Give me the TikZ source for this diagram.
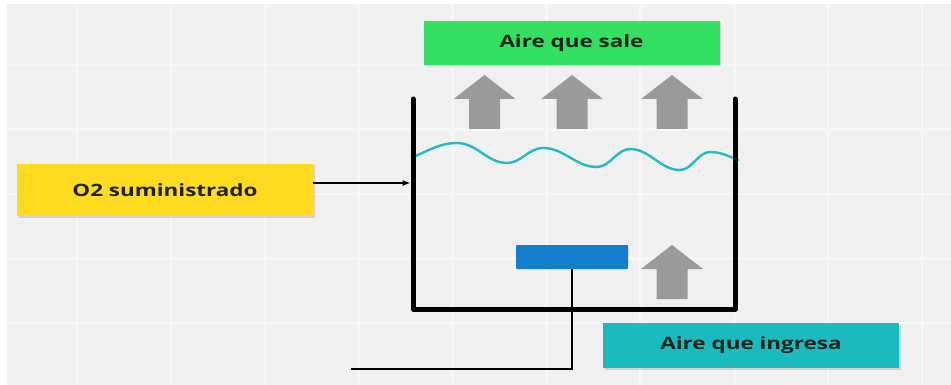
\documentclass[tikz,border=0pt]{standalone}
\usepackage{fontspec}
\newfontfamily\lblfont{Open Sans}[FakeStretch=1.32]
\usetikzlibrary{arrows.meta,shadows}
\definecolor{bggray}{HTML}{F0F0F0}
\definecolor{gridc}{HTML}{F6F6F6}
\definecolor{boxgreen}{HTML}{34E064}
\definecolor{boxyellow}{HTML}{FEDB1F}
\definecolor{boxteal}{HTML}{19BBBE}
\definecolor{diffblue}{HTML}{137FCC}
\definecolor{wavec}{HTML}{22BBC6}
\definecolor{arrgray}{HTML}{9A9A9A}
\definecolor{txt}{HTML}{1E241E}
\tikzset{
  lblbox/.style={minimum width=296pt, inner sep=0pt, text=txt,
    font=\lblfont\bfseries\fontsize{17}{20}\selectfont,
    drop shadow={shadow xshift=1.5pt, shadow yshift=-1.5pt, fill=black, opacity=0.12}},
  tankwall/.style={line width=5pt, line cap=round, line join=round, black},
  pipe/.style={line width=2.6pt, black},
  uparr/.pic={\fill[arrgray] (-15.5,30) -- (-15.5,0) -- (-31,0) -- (0,-24) -- (31,0) -- (15.5,0) -- (15.5,30) -- cycle;}
}
\begin{document}
\begin{tikzpicture}[x=1pt,y=-1pt]
\useasboundingbox (0,0) rectangle (951,385);
\fill[white] (0,0) rectangle (951,385);
\fill[bggray] (7,4) rectangle (951,385);
\foreach \i in {0,...,9} { \draw[gridc, line width=2.5pt] ({77+93.9*\i},4) -- ({77+93.9*\i},385); }
\foreach \j in {1,...,5} { \draw[gridc, line width=2.5pt] (7,{0.5+64.5*\j}) -- (951,{0.5+64.5*\j}); }

% labels
\node[lblbox, fill=boxgreen, minimum height=44pt] (sale) at (571.5,43) {Aire que sale};
\node[lblbox, fill=boxyellow, minimum height=52pt] (o2) at (165,190) {O2 suministrado};
\node[lblbox, fill=boxteal, minimum height=45pt] (ingresa) at (751,345.5) {Aire que ingresa};

% rising air arrows
\pic at (484.5,99) {uparr};
\pic at (572,99) {uparr};
\pic at (672,99) {uparr};
\pic at (672,269) {uparr};

% water surface
\draw[wavec, line width=2.4pt, line cap=round]
  (413,157) .. controls (430,150) and (440,143) .. (457,143)
  .. controls (477,143) and (487,163) .. (507,163)
  .. controls (521.4,163) and (528.6,148) .. (543,148)
  .. controls (564.6,148) and (575.4,167) .. (597,167)
  .. controls (610.2,167) and (616.8,149) .. (630,149)
  .. controls (650,149) and (660,170) .. (680,170)
  .. controls (692,170) and (698,152) .. (710,152)
  .. controls (721,152) and (728,156) .. (738,160);

% tank
\coordinate (tl) at (413,99);
\coordinate (bl) at (413,309);
\coordinate (br) at (735,309);
\coordinate (tr) at (735,99);
\draw[tankwall] (tl) -- (bl) -- (br) -- (tr);

% diffuser and pipe
\node[fill=diffblue, minimum width=112pt, minimum height=24pt, inner sep=0pt, rounded corners=1pt] (diff) at (572,257) {};
\coordinate (pipeend) at (351,369);
\draw[pipe] (diff.south) |- (pipeend);

% O2 supply arrow
\coordinate (wallin) at (410.5,183);
\draw[line width=1.4pt, -{Latex[length=8pt,width=6pt]}] (o2.east |- wallin) -- (wallin);
\end{tikzpicture}
\end{document}
